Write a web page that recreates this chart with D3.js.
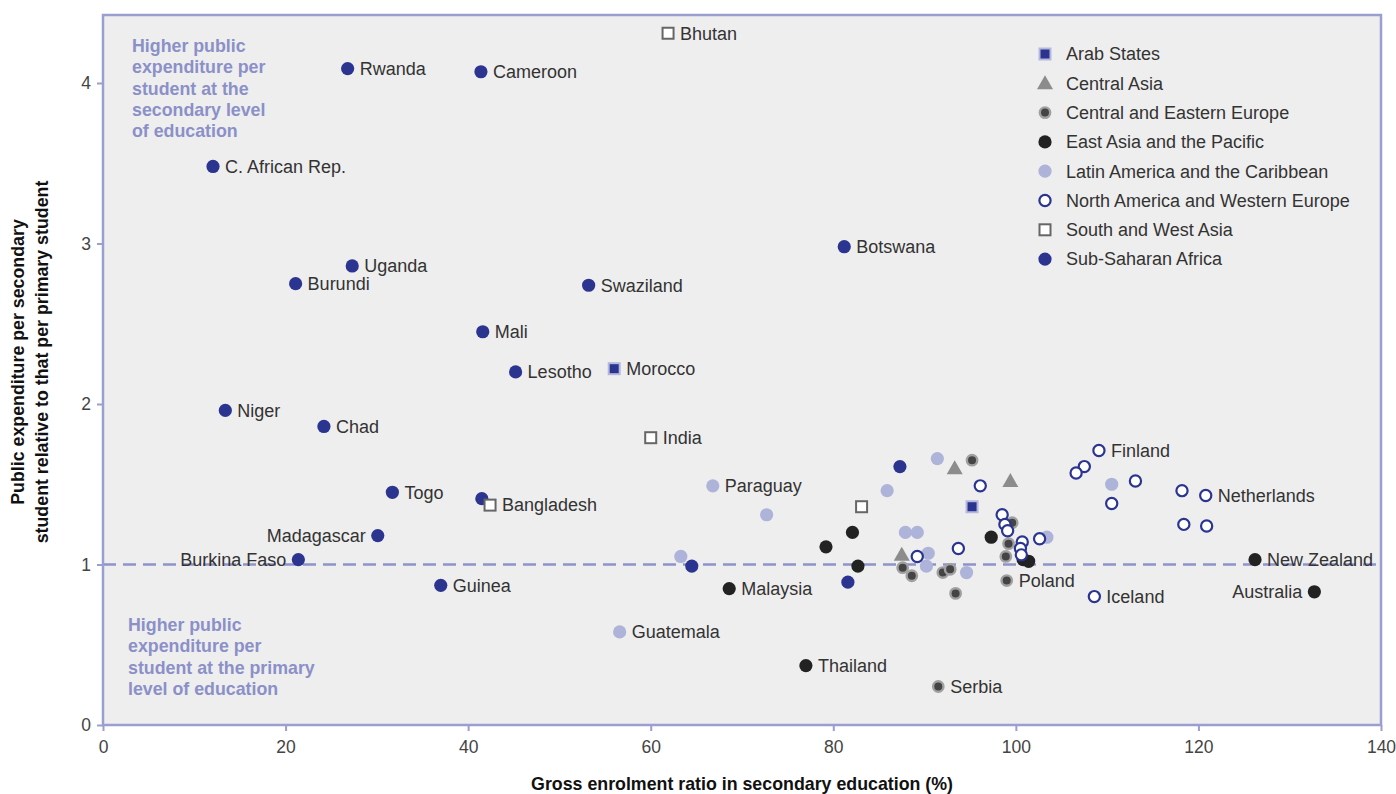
<!DOCTYPE html>
<html><head><meta charset="utf-8">
<script src="https://cdn.jsdelivr.net/npm/d3@7"></script>
<style>
body{margin:0;background:#fff;}
svg{display:block;font-family:"Liberation Sans",Arial,Helvetica,sans-serif;}
</style></head>
<body><svg id="c" width="1396" height="794"></svg>
<script>
// ---- data: [gross enrolment ratio, expenditure ratio, label] ----
const arabStates = [[56.0,2.22,"Morocco"],[95.2,1.36,""]];
const centralAsia = [[93.3,1.60,""],[99.4,1.52,""],[87.5,1.06,""]];
const centralEasternEurope = [[95.2,1.65,""],[91.5,0.24,"Serbia"],[99.0,0.90,"Poland"],[93.4,0.82,""],
  [87.6,0.98,""],[88.6,0.93,""],[92.0,0.95,""],[92.8,0.97,""],[99.6,1.26,""],[99.2,1.13,""],[98.9,1.05,""]];
const eastAsiaPacific = [[68.6,0.85,"Malaysia"],[77.0,0.37,"Thailand"],[126.2,1.03,"New Zealand"],[132.7,0.83,"Australia"],
  [79.2,1.11,""],[82.1,1.20,""],[82.7,0.99,""],[97.3,1.17,""],[100.8,1.03,""],[101.4,1.02,""]];
const latinAmerica = [[66.8,1.49,"Paraguay"],[72.7,1.31,""],[63.3,1.05,""],[56.6,0.58,"Guatemala"],
  [85.9,1.46,""],[91.4,1.66,""],[87.9,1.20,""],[89.2,1.20,""],[90.4,1.07,""],[90.2,0.99,""],[94.6,0.95,""],[103.4,1.17,""],[110.5,1.50,""]];
const northAmericaWesternEurope = [[109.1,1.71,"Finland"],[107.5,1.61,""],[106.6,1.57,""],[113.1,1.52,""],[110.5,1.38,""],
  [118.2,1.46,""],[120.8,1.43,"Netherlands"],[118.4,1.25,""],[120.9,1.24,""],[108.6,0.80,"Iceland"],
  [96.1,1.49,""],[89.2,1.05,""],[93.7,1.10,""],[98.5,1.31,""],[98.8,1.25,""],[99.1,1.21,""],[100.7,1.14,""],[100.5,1.10,""],[100.6,1.06,""],[102.6,1.16,""]];
const southWestAsia = [[61.9,4.31,"Bhutan"],[60.0,1.79,"India"],[42.4,1.37,"Bangladesh"],[83.1,1.36,""]];
const subSaharanAfrica = [[26.8,4.09,"Rwanda"],[41.4,4.07,"Cameroon"],[12.05,3.48,"C. African Rep."],[81.2,2.98,"Botswana"],
  [27.3,2.86,"Uganda"],[21.1,2.75,"Burundi"],[53.2,2.74,"Swaziland"],[41.6,2.45,"Mali"],[45.2,2.20,"Lesotho"],
  [13.4,1.96,"Niger"],[24.2,1.86,"Chad"],[31.7,1.45,"Togo"],[41.5,1.41,""],[30.1,1.18,"Madagascar"],
  [21.4,1.03,"Burkina Faso"],[37.0,0.87,"Guinea"],[64.5,0.99,""],[87.3,1.61,""],[81.6,0.89,""]];
const legendLabels = ["Arab States","Central Asia","Central and Eastern Europe","East Asia and the Pacific",
  "Latin America and the Caribbean","North America and Western Europe","South and West Asia","Sub-Saharan Africa"];
const xTicks = [0,20,40,60,80,100,120,140];
const yTicks = [0,1,2,3,4];
const leftLabels = ["Madagascar","Burkina Faso","Australia"];

// ---- layout ----
const L=103,T=15,R=1381,B=725;
const svg=d3.select("#c");
const x=d3.scaleLinear().domain([0,140]).range([L,R]);
const y=d3.scaleLinear().domain([0,4]).range([B,B-4*160.5]);
const lav="#9a9ed0";
const blue="#2b3590";
const FS=18;

svg.append("rect").attr("x",L).attr("y",T).attr("width",R-L).attr("height",B-T).attr("fill","#eeeeee");

// reference line
svg.append("line").attr("x1",L).attr("x2",R).attr("y1",y(1)).attr("y2",y(1))
  .attr("stroke","#8e93c9").attr("stroke-width",2.5).attr("stroke-dasharray","13,7");

// annotations
const annoTop=["Higher public","expenditure per","student at the","secondary level","of education"];
const annoBot=["Higher public","expenditure per","student at the primary","level of education"];
svg.append("g").selectAll("text").data(annoTop).join("text")
  .attr("x",132).attr("y",(d,i)=>52+i*21.3).text(d=>d)
  .attr("fill","#8b90c8").attr("font-weight","bold").attr("font-size",17.8);
svg.append("g").selectAll("text").data(annoBot).join("text")
  .attr("x",128).attr("y",(d,i)=>631+i*21.3).text(d=>d)
  .attr("fill","#8b90c8").attr("font-weight","bold").attr("font-size",17.8);

// symbol drawers
const styles={
  "Arab States":(g)=>g.append("rect").attr("x",-5.5).attr("y",-5.5).attr("width",11).attr("height",11).attr("fill",blue).attr("stroke","#b4b8de").attr("stroke-width",2),
  "Central Asia":(g)=>g.append("path").attr("d","M0,-8L8,6L-8,6Z").attr("fill","#8c8c8c"),
  "Central and Eastern Europe":(g)=>g.append("circle").attr("r",5.2).attr("fill","#444").attr("stroke","#a0a0a0").attr("stroke-width",2.4),
  "East Asia and the Pacific":(g)=>g.append("circle").attr("r",6.6).attr("fill","#222"),
  "Latin America and the Caribbean":(g)=>g.append("circle").attr("r",6.6).attr("fill","#aeb3d9"),
  "North America and Western Europe":(g)=>g.append("circle").attr("r",5.6).attr("fill","#fff").attr("stroke",blue).attr("stroke-width",2.2),
  "South and West Asia":(g)=>g.append("rect").attr("x",-5.5).attr("y",-5.5).attr("width",11).attr("height",11).attr("fill","#fff").attr("stroke","#666").attr("stroke-width",2),
  "Sub-Saharan Africa":(g)=>g.append("circle").attr("r",6.6).attr("fill",blue)
};
const series=[
  ["Latin America and the Caribbean",latinAmerica],
  ["Central Asia",centralAsia],
  ["Central and Eastern Europe",centralEasternEurope],
  ["East Asia and the Pacific",eastAsiaPacific],
  ["Sub-Saharan Africa",subSaharanAfrica],
  ["Arab States",arabStates],
  ["South and West Asia",southWestAsia],
  ["North America and Western Europe",northAmericaWesternEurope]
];
const pts=svg.append("g");
const labs=svg.append("g");
series.forEach(([name,data])=>{
  data.forEach(d=>{
    const g=pts.append("g").attr("transform",`translate(${x(d[0])},${y(d[1])})`);
    styles[name](g);
    if(d[2]){
      const left=leftLabels.includes(d[2]);
      labs.append("text").attr("x",x(d[0])+(left?-12:12)).attr("y",y(d[1])).attr("dy","0.35em")
        .attr("text-anchor",left?"end":"start").attr("font-size",FS).attr("fill","#333").text(d[2]);
    }
  });
});

// legend
const lg=svg.append("g");
legendLabels.forEach((n,i)=>{
  const yy=54+i*29.3;
  const g=lg.append("g").attr("transform",`translate(1045,${yy})`);
  styles[n](g);
  lg.append("text").attr("x",1066).attr("y",yy).attr("dy","0.35em").attr("font-size",FS).attr("fill","#333").text(n);
});

// frame
svg.append("rect").attr("x",L).attr("y",T).attr("width",R-L).attr("height",B-T).attr("fill","none").attr("stroke",lav).attr("stroke-width",2.5);

// axes
const xa=svg.append("g").attr("transform",`translate(0,${B})`).call(d3.axisBottom(x).tickValues(xTicks).tickSize(6).tickPadding(10).tickFormat(d3.format("d")));
const ya=svg.append("g").attr("transform",`translate(${L},0)`).call(d3.axisLeft(y).tickValues(yTicks).tickSize(6).tickPadding(6).tickFormat(d3.format("d")));
[xa,ya].forEach(a=>{
  a.select(".domain").remove();
  a.selectAll(".tick line").attr("stroke",lav).attr("stroke-width",2);
  a.selectAll(".tick text").attr("font-size",17.5).attr("fill","#444").attr("font-family","Liberation Sans,Arial,sans-serif");
});

// axis titles
svg.append("text").attr("x",742).attr("y",790).attr("text-anchor","middle").attr("font-weight","bold").attr("font-size",17.8).attr("fill","#111")
  .text("Gross enrolment ratio in secondary education (%)");
const yt=svg.append("text").attr("transform","translate(0,362) rotate(-90)").attr("text-anchor","middle").attr("font-weight","bold").attr("font-size",17.8).attr("fill","#111");
yt.append("tspan").attr("x",0).attr("y",24).text("Public expenditure per secondary");
yt.append("tspan").attr("x",0).attr("y",48).text("student relative to that per primary student");
</script></body></html>
